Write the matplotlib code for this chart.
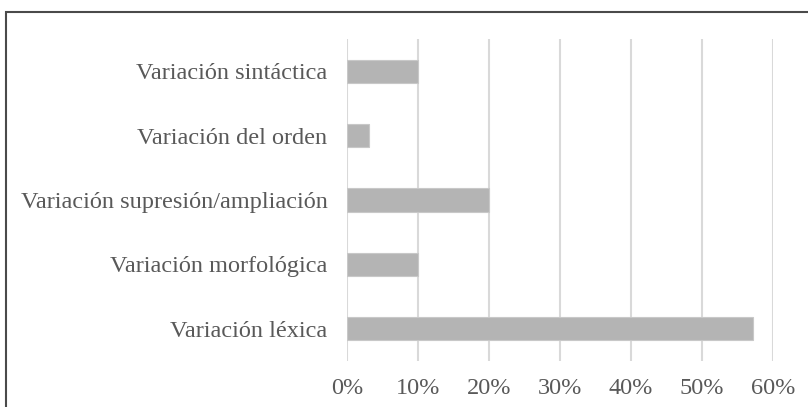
import matplotlib
matplotlib.use("Agg")
import matplotlib.pyplot as plt
from matplotlib.patches import Rectangle
from matplotlib.ticker import FuncFormatter
import numpy as np

categories = [
    "Variación léxica",
    "Variación morfológica",
    "Variación supresión/ampliación",
    "Variación del orden",
    "Variación sintáctica",
]
values = [0.572, 0.10, 0.20, 0.031, 0.10]
x_ticks = [0, 0.1, 0.2, 0.3, 0.4, 0.5, 0.6]

plt.rcParams["font.family"] = ["Liberation Serif", "DejaVu Serif"]

fig = plt.figure(figsize=(8.08, 4.07), dpi=100)
ax = fig.add_axes([347 / 808, 1 - 361 / 407, 426 / 808, 322 / 407])

y = np.arange(len(categories))
ax.barh(y, values, height=0.36, color="#b4b4b4", edgecolor="#c8c8c8", linewidth=0.8, zorder=3)

ax.set_xlim(0, 0.6)
ax.set_ylim(-0.5, len(categories) - 0.5)
ax.set_xticks(x_ticks)
ax.xaxis.set_major_formatter(FuncFormatter(lambda v, _: f"{v * 100:.0f}%"))
ax.set_yticks(y)
ax.set_yticklabels(categories)

ax.grid(axis="x", color="#d9d9d9", linewidth=1.5, zorder=0)
for s in ax.spines.values():
    s.set_visible(False)
ax.tick_params(axis="both", length=0, labelsize=17.5, colors="#595959")
ax.tick_params(axis="x", pad=12.5)
ax.tick_params(axis="y", pad=14)

# outer frame (cut off at right and bottom in the reference)
fig.patches.append(Rectangle((6 / 808, -0.1), 1.2, 1 - 12 / 407 + 0.1,
                             transform=fig.transFigure, fill=False,
                             edgecolor="#4a4a4a", linewidth=1.5))

plt.savefig("out.png", dpi=100)
plt.close()
